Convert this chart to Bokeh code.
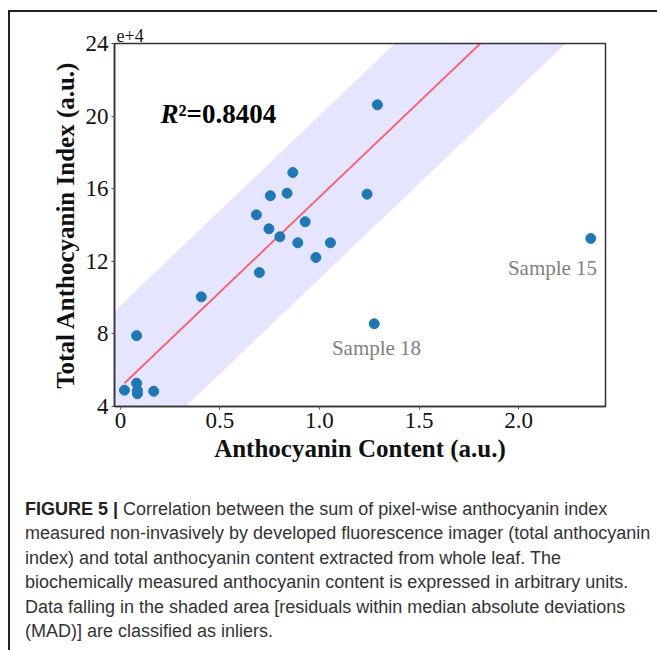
from bokeh.plotting import figure
from bokeh.models import Label, FixedTicker, Div
from bokeh.layouts import column
from bokeh.embed import file_html
from bokeh.resources import INLINE
from bokeh.core.properties import value

# ---- data (y in units of 1e4) ----
content = [0.02, 0.081, 0.085, 0.085, 0.167, 0.081, 0.406, 0.698, 0.683, 0.746,
           0.753, 0.801, 0.837, 0.866, 0.891, 0.928, 0.982, 1.055, 1.239, 1.291,
           1.275, 2.363]
index_e4 = [4.90, 5.28, 4.88, 4.70, 4.84, 7.90, 10.04, 11.38, 14.56, 13.79,
            15.61, 13.35, 15.75, 16.89, 13.02, 14.18, 12.21, 13.02, 15.70, 20.62,
            8.56, 13.26]
fit_slope = 10.47
fit_intercept = 5.07
mad_halfwidth = 4.5
x_ticks = [0, 0.5, 1.0, 1.5, 2.0]
x_tick_labels = ["0", "0.5", "1.0", "1.5", "2.0"]
y_ticks = [4, 8, 12, 16, 20, 24]
y_tick_labels = ["4", "8", "12", "16", "20", "24"]
r2_text = "²=0.8404"
outliers = ["Sample 15", "Sample 18"]
caption_head = "FIGURE 5 |"
caption_lines = [
    "Correlation between the sum of pixel-wise anthocyanin index",
    "measured non-invasively by developed fluorescence imager (total anthocyanin",
    "index) and total anthocyanin content extracted from whole leaf. The",
    "biochemically measured anthocyanin content is expressed in arbitrary units.",
    "Data falling in the shaded area [residuals within median absolute deviations",
    "(MAD)] are classified as inliers.",
]

X0, X1 = -0.03, 2.437
Y0, Y1 = 4, 24

# page geometry
OX, OY = 10, 12            # content origin (after margin + border)
PFL, PFT, PFR, PFB = 114, 43, 605, 406   # frame in page px
W, H = 645, 458
FL, FT, FR, FB = PFL - OX, PFT - OY, PFR - OX, PFB - OY


def px2x(px):
    return X0 + (px - PFL) / (PFR - PFL) * (X1 - X0)


def py2y(py):
    return Y1 - (py - PFT) / (PFB - PFT) * (Y1 - Y0)


p = figure(width=W, height=H, x_range=(X0, X1), y_range=(Y0, Y1),
           output_backend="svg", toolbar_location=None,
           min_border_left=FL, min_border_top=FT,
           min_border_right=W - FR, min_border_bottom=H - FB)

serif = "Liberation Serif"

p.title.text = "e+4"
p.title.align = "left"
p.title.text_font = serif
p.title.text_font_size = "18px"
p.title.text_font_style = "normal"
p.title.text_color = "#111111"
p.title.standoff = 3
p.title.offset = 2

p.grid.visible = False
p.outline_line_color = "#333333"
p.outline_line_width = 1.5
p.outline_line_alpha = 1

# band and fit
xb = [X0 - 0.1, X1 + 0.1]
yc = [fit_intercept + fit_slope * v for v in xb]
p.varea(x=xb, y1=[v - mad_halfwidth for v in yc], y2=[v + mad_halfwidth for v in yc],
        fill_color="blue", fill_alpha=0.1)
xl = [min(content), max(content)]
p.line(x=xl, y=[fit_intercept + fit_slope * v for v in xl], line_color="red",
       line_alpha=0.55, line_width=2)
p.scatter(x=content, y=index_e4, size=10, fill_color="#1f77b4", line_color="#1f77b4")

# axes
for ax in (p.xaxis[0], p.yaxis[0]):
    ax.axis_line_color = "#333333"
    ax.axis_line_width = 1.5
    ax.major_tick_out = 3
    ax.major_tick_in = 0
    ax.major_tick_line_color = "#555555"
    ax.minor_tick_line_color = None
    ax.major_label_text_font = serif
    ax.major_label_text_font_size = "23px"
    ax.major_label_text_color = "#111111"
    ax.axis_label_text_font = serif
    ax.axis_label_text_font_size = "25px"
    ax.axis_label_text_font_style = "bold"
    ax.axis_label_text_color = "#111111"

p.xaxis.ticker = FixedTicker(ticks=x_ticks)
p.xaxis.major_label_overrides = dict(zip(x_ticks, x_tick_labels))
p.yaxis.ticker = FixedTicker(ticks=y_ticks)
p.yaxis.major_label_overrides = dict(zip(y_ticks, y_tick_labels))
p.xaxis.axis_label = "Anthocyanin Content (a.u.)"
p.yaxis.axis_label = "Total Anthocyanin Index (a.u.)"
p.xaxis.major_label_standoff = 3
p.yaxis.major_label_standoff = 3
p.xaxis.axis_label_standoff = 4
p.yaxis.axis_label_standoff = 4

# R^2 annotation
p.add_layout(Label(x=px2x(160), y=py2y(113), text="R", text_font=serif,
                   text_font_size="27px", text_font_style="bold italic",
                   text_color="#000000",
                   text_baseline="alphabetic", text_align="left"))
p.add_layout(Label(x=px2x(178), y=py2y(113), text=r2_text, text_font=serif,
                   text_font_size="27px", text_font_style="bold",
                   text_color="#000000",
                   text_baseline="alphabetic", text_align="left"))

# outlier labels
p.text(x=[px2x(552), px2x(376)], y=[py2y(267), py2y(347)], text=outliers,
       text_font=value(serif), text_font_size="21px", text_color="#808080",
       text_align="center", text_baseline="middle")

# caption
cap_html = ('<div style="font-family: \'Liberation Sans\', sans-serif; font-size: 18px; '
            'line-height: 24.4px; color: #333; padding: 22px 0 0 10px; white-space: nowrap;">'
            '<b style="color:#222">' + caption_head + '</b> '
            + '<br>'.join(caption_lines) + '</div>')
cap = Div(text=cap_html, width=W, height=175)

layout = column(p, cap, styles={"margin": "10px 0 0 8px",
                                "border-top": "2px solid #222",
                                "border-left": "2px solid #222"})

open("out.html", "w").write(file_html(layout, INLINE))
